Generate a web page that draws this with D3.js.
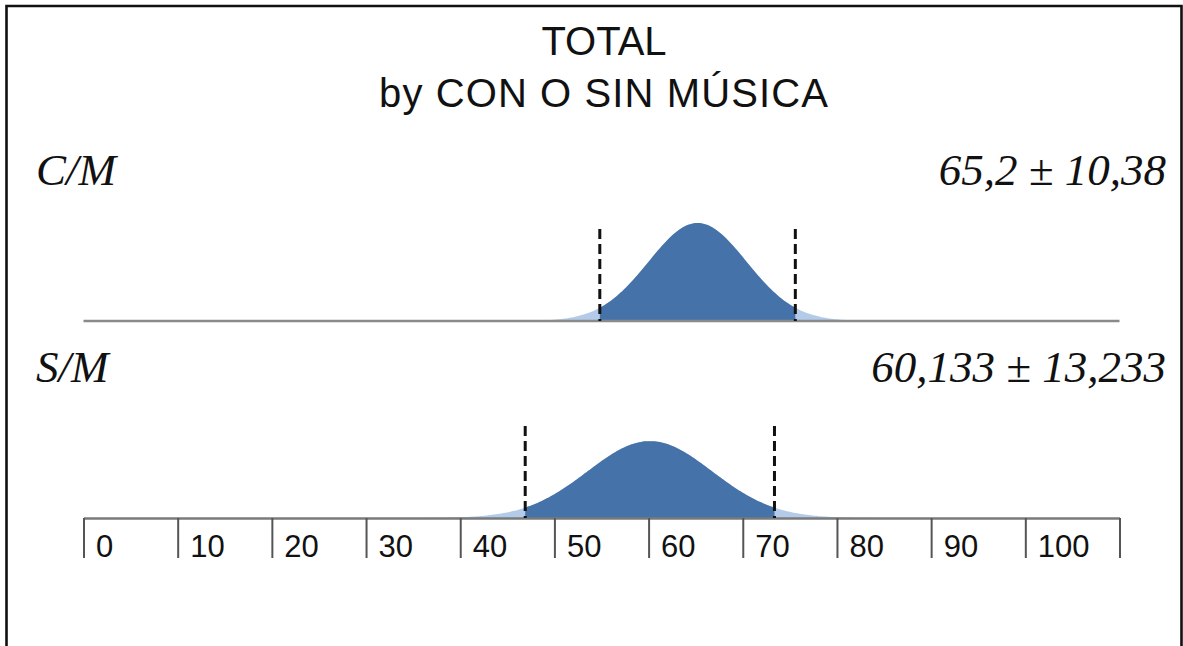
<!DOCTYPE html>
<html>
<head>
<meta charset="utf-8">
<script src="https://cdn.jsdelivr.net/npm/d3@7"></script>
<style>
  html, body { margin: 0; padding: 0; background: #fff; }
  svg { display: block; }
</style>
</head>
<body>
<svg id="chart" width="1183" height="646"></svg>
<script>
// Groups and their summary statistics (mean ± standard deviation)
const groups = ["C/M", "S/M"];
const means = [65.2, 60.133];
const sds = [10.38, 13.233];

// Axis ticks and their labels (the last tick closes the scale without a label)
const tickValues = [0, 10, 20, 30, 40, 50, 60, 70, 80, 90, 100, 110];
const tickLabels = ["0", "10", "20", "30", "40", "50", "60", "70", "80", "90", "100", ""];

const titleLines = ["TOTAL", "by CON O SIN MÚSICA"];

const svg = d3.select("#chart");
const W = 1183, H = 646;

// Frame
svg.append("path")
  .attr("d", `M6.5,${H + 5} L6.5,6 L1181.5,6 L1181.5,${H + 5}`)
  .attr("fill", "none")
  .attr("stroke", "#111")
  .attr("stroke-width", 2.6);

// Title
svg.selectAll("text.title")
  .data(titleLines)
  .join("text")
  .attr("class", "title")
  .attr("x", 604)
  .attr("y", (d, i) => i === 0 ? 55 : 107)
  .attr("text-anchor", "middle")
  .attr("font-family", "'Liberation Sans', Arial, Helvetica, sans-serif")
  .attr("font-size", 40)
  .attr("letter-spacing", (d, i) => i === 0 ? 0 : 1.1)
  .attr("fill", "#111")
  .text(d => d);

const x = d3.scaleLinear().domain([0, 110]).range([83.5, 1119.5]);
const baselines = [321, 518];

// Each bell is drawn with half the group's SD as its spread
const pdf = (v, m, s) => Math.exp(-0.5 * ((v - m) / s) ** 2) / (s * Math.sqrt(2 * Math.PI));
const fmt = n => String(n).replace(".", ",");

const dark = "#4572a8";
const light = "#b3cbe8";

groups.forEach((g, i) => {
  const base = baselines[i];
  const m = means[i], s = sds[i];
  const spread = s / 2;
  const y = d3.scaleLinear().domain([0, 0.08]).range([base, base - 102]);
  const panel = svg.append("g");

  const area = d3.area()
    .x(d => x(d))
    .y0(base)
    .y1(d => y(pdf(d, m, spread)))
    .curve(d3.curveLinear);

  // Full curve (tails in light blue)
  const full = d3.range(0, 110.001, 0.2);
  panel.append("path")
    .datum(full)
    .attr("d", area)
    .attr("fill", light);

  // Central band, mean ± one standard deviation
  const lo = m - s, hi = m + s;
  const band = [lo].concat(d3.range(Math.ceil(lo * 5) / 5, hi, 0.2)).concat([hi]);
  panel.append("path")
    .datum(band)
    .attr("d", area)
    .attr("fill", dark);

  // Baseline / axis
  if (i === groups.length - 1) {
    const axis = d3.axisBottom(x)
      .tickValues(tickValues)
      .tickFormat((d, k) => tickLabels[k])
      .tickSize(40)
      .tickSizeOuter(0);
    const ax = panel.append("g")
      .attr("transform", `translate(0,${base})`)
      .call(axis);
    ax.select(".domain")
      .attr("stroke", "#7a7a7a")
      .attr("stroke-width", 2.4);
    ax.selectAll(".tick line")
      .attr("stroke", "#555")
      .attr("stroke-width", 2);
    ax.selectAll(".tick text")
      .attr("text-anchor", "start")
      .attr("x", 12)
      .attr("y", 39)
      .attr("dy", 0)
      .attr("font-family", "'Liberation Sans', Arial, Helvetica, sans-serif")
      .attr("font-size", 31)
      .attr("fill", "#111");
  } else {
    panel.append("line")
      .attr("x1", x(0)).attr("x2", x(110))
      .attr("y1", base).attr("y2", base)
      .attr("stroke", "#8a8a8a")
      .attr("stroke-width", 2.4);
  }

  // Dashed markers at mean ± SD
  panel.selectAll("line.sd")
    .data([lo, hi])
    .join("line")
    .attr("class", "sd")
    .attr("x1", d => x(d)).attr("x2", d => x(d))
    .attr("y1", base - 92).attr("y2", base)
    .attr("stroke", "#111")
    .attr("stroke-width", 3)
    .attr("stroke-dasharray", "10,5");

  // Group name and statistics
  panel.append("text")
    .attr("x", 36)
    .attr("y", base - 136)
    .attr("font-family", "'Liberation Serif', 'Times New Roman', serif")
    .attr("font-style", "italic")
    .attr("font-size", 45)
    .attr("fill", "#111")
    .text(g);

  panel.append("text")
    .attr("x", 1166)
    .attr("y", base - 136)
    .attr("text-anchor", "end")
    .attr("font-family", "'Liberation Serif', 'Times New Roman', serif")
    .attr("font-style", "italic")
    .attr("font-size", 45)
    .attr("fill", "#111")
    .text(`${fmt(m)} ± ${fmt(s)}`);
});
</script>
</body>
</html>
